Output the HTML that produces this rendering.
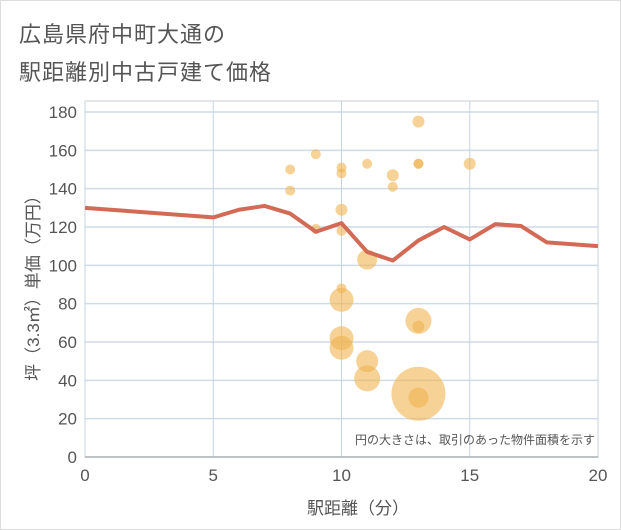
<!DOCTYPE html>
<html><head><meta charset="utf-8"><style>
body{margin:0;background:#fff;font-family:"Liberation Sans","Noto Sans CJK JP",sans-serif}
#wrap{position:relative;width:621px;height:530px;overflow:hidden;border:1px solid #ddd;box-sizing:border-box}
.t{position:absolute;left:18px;font-size:22px;color:#555;letter-spacing:1px}
</style></head><body>
<div id="wrap">
<div class="t" style="top:16px">広島県府中町大通の</div>
<div class="t" style="top:54px">駅距離別中古戸建て価格</div>
<svg id="svg" width="621" height="530" style="position:absolute;left:0;top:0"></svg>
</div>
<script>
const xTicks=[0,5,10,15,20];
const yTicks=[0,20,40,60,80,100,120,140,160,180];
const bubbleX=[8,8,9,9,10,10,10,10,10,10,10,10,11,11,11,11,12,12,13,13,13,13,13,13,13,15];
const bubbleY=[150,139,158,119,151,148,129,118,88,82,62,57,153,103,50,41,147,141,175,153,153,71,68,33,31,153];
const bubbleR=[5,5,5,5,5,5,6,5,5,12,12,12,5,10,11,13,6,5,6,5,5,13,6,27,10,6];
const lineX=[0,5,6,7,8,9,10,11,12,13,14,15,16,17,18,20];
const lineY=[130,125,129,131,127,117.5,122,107,102.5,113,120,113.5,121.5,120.5,112,110];
const X0=84,X1=597,Y0=456,Y1=111;
const sx=v=>X0+(X1-X0)*v/20, sy=v=>Y0-(Y0-Y1)*v/180;
const svg=document.getElementById('svg');const NS='http://www.w3.org/2000/svg';
function mk(t,a,p){const e=document.createElementNS(NS,t);for(const k in a)e.setAttribute(k,a[k]);(p||svg).appendChild(e);return e;}
mk('rect',{x:X0,y:100,width:X1-X0,height:Y0-100,fill:'#fff',stroke:'#ccc'});
yTicks.forEach(v=>{const l=mk('line',{x1:X0,x2:X1,y1:sy(v),y2:sy(v),stroke:'#cfdbe6','stroke-width':1.5});


const t=mk('text',{x:X0-8,y:sy(v)+6,'text-anchor':'end','font-size':17,fill:'#555'});t.textContent=v;

});
xTicks.forEach(v=>{const l=mk('line',{x1:sx(v),x2:sx(v),y1:100,y2:Y0,stroke:'#c5d4e2','stroke-width':1});


const t=mk('text',{x:sx(v),y:480,'text-anchor':'middle','font-size':17,fill:'#555'});t.textContent=v;

});
mk('line',{x1:X0,x2:X1,y1:Y0,y2:Y0,stroke:'#999'});
bubbleX.forEach((x,i)=>{const c=mk('circle',{cx:sx(x),cy:sy(bubbleY[i]),r:bubbleR[i],fill:'#f0b450','fill-opacity':0.6});

});
const p=mk('polyline',{points:lineX.map((x,i)=>sx(x)+','+sy(lineY[i])).join(' '),fill:'none',stroke:'#d26a55','stroke-width':4,'stroke-linejoin':'round'});


const n=mk('text',{x:594,y:443,'text-anchor':'end','font-size':12,fill:'#555'});n.textContent='円の大きさは、取引のあった物件面積を示す';


const xl=mk('text',{x:357,y:513,'text-anchor':'middle','font-size':17,fill:'#555'});xl.textContent='駅距離（分）';


const yl=mk('text',{x:0,y:0,'text-anchor':'middle','font-size':17,fill:'#555',transform:'translate(38,283) rotate(-90)'});yl.textContent='坪（3.3㎡）単価（万円）';


</script>
</body></html>
